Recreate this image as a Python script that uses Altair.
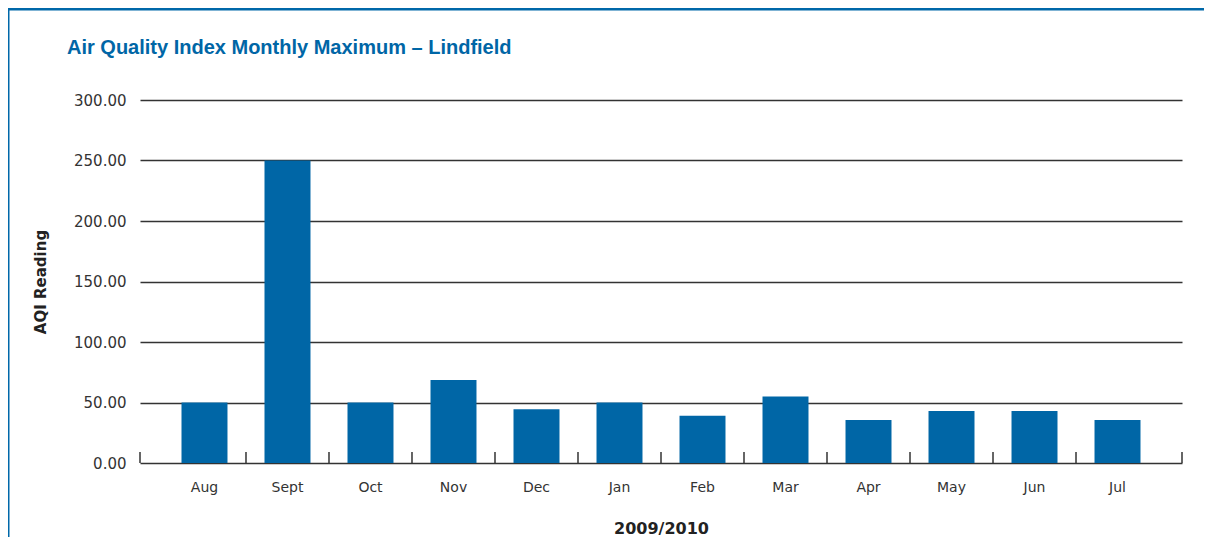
import altair as alt
import pandas as pd

# ---- data ----
months = ["Aug", "Sept", "Oct", "Nov", "Dec", "Jan", "Feb", "Mar", "Apr", "May", "Jun", "Jul"]
aqi = [50, 250, 50, 68.5, 44.5, 50, 39, 55, 35.5, 43, 43, 35.5]
y_ticks = [0, 50, 100, 150, 200, 250, 300]

title_text = "Air Quality Index Monthly Maximum – Lindfield"
y_title = "AQI Reading"
x_title = "2009/2010"

df = pd.DataFrame({"month": months, "aqi": aqi})
# category boundaries (a tick after every month except the last)
tick_df = pd.DataFrame({"month": months[:-1]})

BLUE = "#0066a6"
FRAME = "#0068a9"
INK = "#333333"

W, H = 1042, 363
PAD_L, PAD_T, PAD_R, PAD_B = 132, 92, 22, 74
P_INNER, P_OUTER = 0.446, 0.5
STEP = W / (len(months) - P_INNER + 2 * P_OUTER)
GAP_HALF = STEP * P_INNER / 2
TICK = 11

x_scale = alt.Scale(paddingInner=P_INNER, paddingOuter=P_OUTER)

bars = alt.Chart(df).mark_bar(color=BLUE).encode(
    x=alt.X(
        "month:N",
        sort=months,
        title=x_title,
        scale=x_scale,
        axis=alt.Axis(
            labelAngle=0,
            domain=False,
            ticks=False,
            labelPadding=17,
            labelFont="DejaVu Sans",
            labelFontSize=14,
            labelColor=INK,
            titleFont="DejaVu Sans",
            titleFontSize=16,
            titleFontWeight="bold",
            titleColor="#222222",
            titlePadding=26,
            grid=False,
        ),
    ),
    y=alt.Y(
        "aqi:Q",
        title=y_title,
        scale=alt.Scale(domain=[0, 300], nice=False),
        axis=alt.Axis(
            values=y_ticks,
            format=".2f",
            domain=False,
            ticks=False,
            labelPadding=14,
            labelFont="DejaVu Sans",
            labelFontSize=15,
            labelColor=INK,
            grid=True,
            gridColor=INK,
            gridWidth=1.4,
            titleFont="DejaVu Sans",
            titleFontSize=15,
            titleFontWeight="bold",
            titleColor="#222222",
            titlePadding=25,
        ),
    ),
)

# category separator ticks, pointing up from the baseline, midway between bars
sep_ticks = alt.Chart(tick_df).mark_rule(color=INK, strokeWidth=1.5, xOffset=GAP_HALF).encode(
    x=alt.X("month:N", sort=months, bandPosition=1, scale=x_scale),
    y=alt.value(H - TICK),
    y2=alt.value(H),
)

frame_df = pd.DataFrame({"k": [0]})
top_band = alt.Chart(frame_df).mark_rect(color=FRAME, clip=False).encode(
    x=alt.value(-PAD_L), x2=alt.value(W + PAD_R),
    y=alt.value(-PAD_T), y2=alt.value(-PAD_T + 2.5),
)
left_border = alt.Chart(frame_df).mark_rect(color=FRAME, clip=False).encode(
    x=alt.value(-PAD_L), x2=alt.value(-PAD_L + 1.5),
    y=alt.value(-PAD_T), y2=alt.value(H + PAD_B),
)
end_tick_left = alt.Chart(frame_df).mark_rule(color=INK, strokeWidth=1.5).encode(
    x=alt.value(0), y=alt.value(H - TICK), y2=alt.value(H),
)
end_tick_right = alt.Chart(frame_df).mark_rule(color=INK, strokeWidth=1.5).encode(
    x=alt.value(W), y=alt.value(H - TICK), y2=alt.value(H),
)

chart = alt.layer(
    bars, sep_ticks, top_band, left_border, end_tick_left, end_tick_right
).properties(
    width=W,
    height=H,
    background="white",
    title=alt.TitleParams(
        title_text,
        anchor="start",
        frame="group",
        baseline="alphabetic",
        offset=0,
        dx=-73,
        dy=66,
        font="Liberation Sans",
        fontSize=20,
        fontWeight="bold",
        color=BLUE,
    ),
    autosize=alt.AutoSizeParams(type="none"),
    padding={"left": PAD_L, "top": PAD_T, "right": PAD_R, "bottom": PAD_B},
).configure_view(strokeWidth=0)

chart.save("out.html", embed_options={"renderer": "svg", "actions": False})
